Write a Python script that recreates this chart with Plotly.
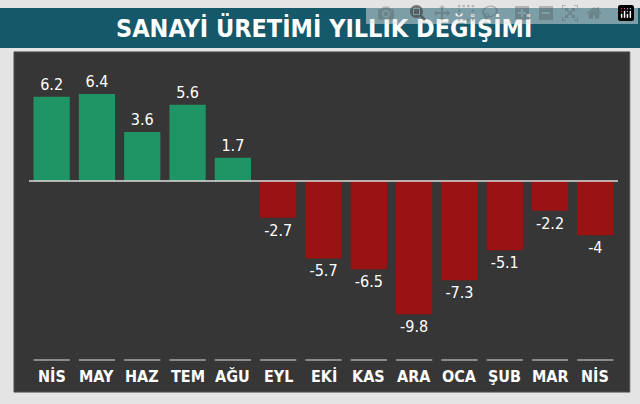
import plotly.graph_objects as go

months = ["NİS", "MAY", "HAZ", "TEM", "AĞU", "EYL", "EKİ", "KAS", "ARA", "OCA", "ŞUB", "MAR", "NİS"]
values = [6.2, 6.4, 3.6, 5.6, 1.7, -2.7, -5.7, -6.5, -9.8, -7.3, -5.1, -2.2, -4]
labels = ["6.2", "6.4", "3.6", "5.6", "1.7", "-2.7", "-5.7", "-6.5", "-9.8", "-7.3", "-5.1", "-2.2", "-4"]

FONT = "DejaVu Sans Condensed"
x = list(range(len(months)))
colors = ["#1f9464" if v > 0 else "#9a1212" for v in values]

fig = go.Figure(go.Bar(
    x=x, y=values, width=0.8,
    marker=dict(color=colors, line=dict(width=0)),
    text=labels, textposition="outside", cliponaxis=False,
    textfont=dict(color="white", size=16, family=FONT),
))

# panel + banner
fig.add_shape(type="rect", xref="paper", yref="paper", x0=-0.0255, x1=1.02, y0=-0.186, y1=1.029,
              fillcolor="#363636", line=dict(color="#555555", width=1), layer="below")
fig.add_shape(type="rect", xref="paper", yref="paper", x0=-0.06, x1=1.05, y0=1.043, y1=1.186,
              fillcolor="#15586a", line=dict(width=0), layer="below")
fig.add_annotation(text="<b>SANAYİ ÜRETİMİ YILLIK DEĞİŞİMİ</b>", xref="paper", yref="paper",
                   x=0.5, y=1.114, yanchor="middle", showarrow=False,
                   font=dict(color="white", size=25, family=FONT))
# zero line
fig.add_shape(type="line", xref="paper", yref="y", x0=0, x1=1, y0=0, y1=0,
              line=dict(color="#dddddd", width=1.5))

# month labels with underline
for i, m in enumerate(months):
    fig.add_shape(type="line", xref="x", yref="paper", x0=i - 0.4, x1=i + 0.4, y0=-0.071, y1=-0.071,
                  line=dict(color="#8a8a8a", width=2))
    fig.add_annotation(text="<b>" + m + "</b>", x=i, xref="x", yref="paper", y=-0.132,
                       yanchor="middle", showarrow=False, font=dict(color="white", size=16, family=FONT))

fig.update_layout(
    width=640, height=404,
    margin=dict(l=29, r=22, t=60, b=64),
    paper_bgcolor="#e4e4e4", plot_bgcolor="rgba(0,0,0,0)",
    showlegend=False,
    xaxis=dict(range=[-0.5, 12.5], visible=False),
    yaxis=dict(range=[-11.7, 8.9], visible=False),
)

fig.write_html("out.html", post_script="document.body.style.margin='0';")
